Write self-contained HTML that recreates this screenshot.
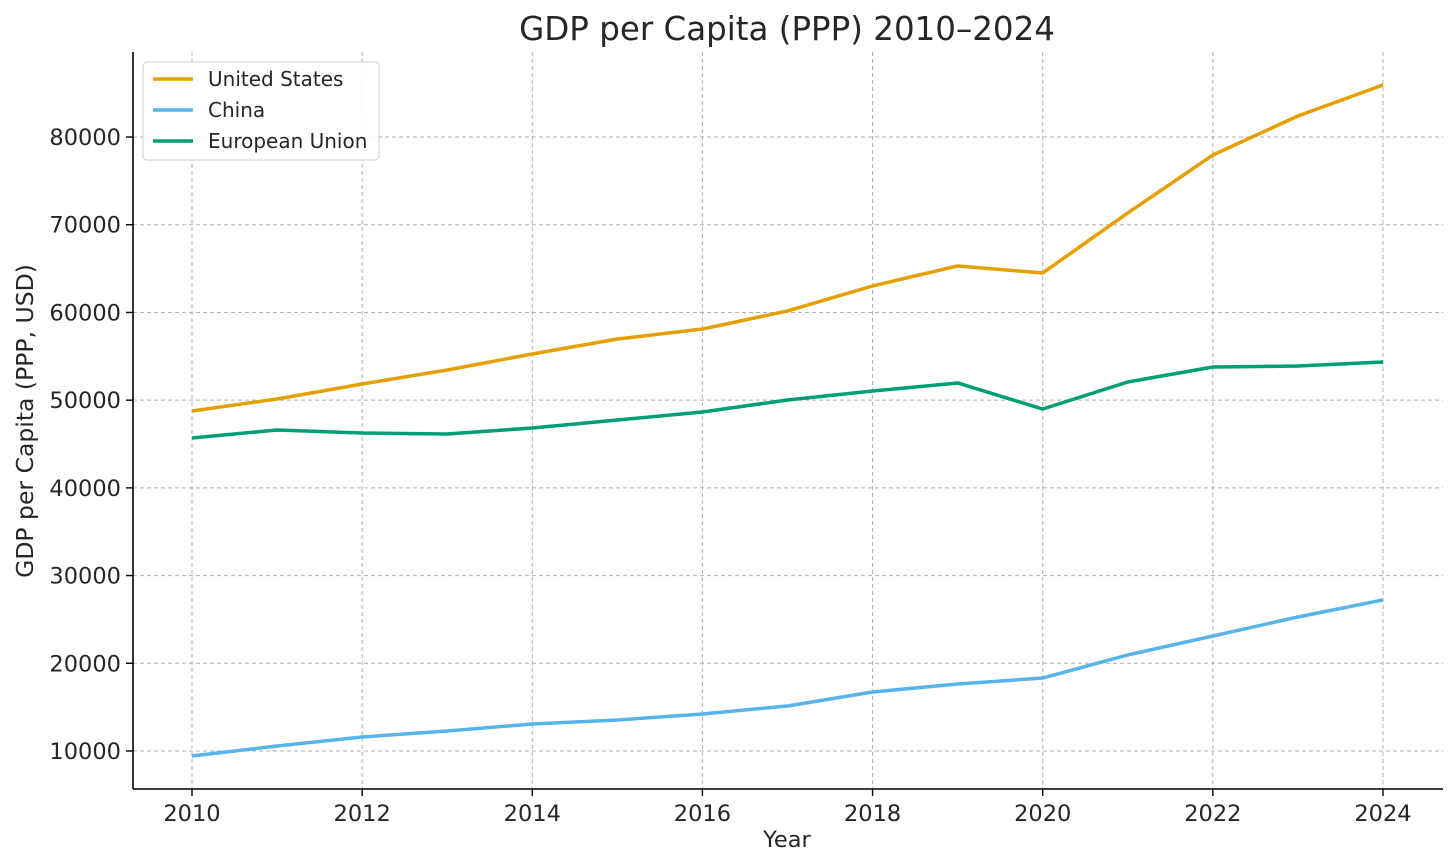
<!DOCTYPE html>
<html><head><meta charset="utf-8"><style>
html,body{margin:0;padding:0;background:#fff;}
svg{display:block;font-family:"DejaVu Sans","Liberation Sans",sans-serif;}
</style></head><body>
<svg id="chart" width="1456" height="868">
<text x="787" y="40" text-anchor="middle" font-size="32.5" fill="#262626">GDP per Capita (PPP) 2010–2024</text>
<g id="grid"></g>
<g id="series"></g>
<line x1="133" y1="52" x2="133" y2="789" stroke="#000" stroke-width="1.6"/>
<line x1="133" y1="789" x2="1443" y2="789" stroke="#000" stroke-width="1.6"/>
<g id="ticks"></g>
<text x="787" y="847" text-anchor="middle" font-size="22.5" fill="#262626">Year</text>
<text transform="translate(33,421) rotate(-90)" text-anchor="middle" font-size="23.5" fill="#262626">GDP per Capita (PPP, USD)</text>
<g>
<rect x="143" y="62" width="236" height="98" rx="4" fill="#fff" fill-opacity="0.85" stroke="#ccc"/>
<g><line x1="153" y1="79" x2="193" y2="79" stroke="#E69F00" stroke-width="3.5"/><text x="208" y="86" font-size="20" fill="#262626">United States</text></g>
<g><line x1="153" y1="110" x2="193" y2="110" stroke="#56B4E9" stroke-width="3.5"/><text x="208" y="117" font-size="20" fill="#262626">China</text></g>
<g><line x1="153" y1="141" x2="193" y2="141" stroke="#009E73" stroke-width="3.5"/><text x="208" y="148" font-size="20" fill="#262626">European Union</text></g>
</g>
</svg>
<script>
const years = [2010,2011,2012,2013,2014,2015,2016,2017,2018,2019,2020,2021,2022,2023,2024];
const usValues = [48760,50130,51840,53440,55260,56970,58110,60170,63020,65300,64500,71340,77950,82400,85930];
const chinaValues = [9430,10570,11600,12280,13080,13530,14220,15130,16730,17640,18320,20950,23110,25280,27220];
const euValues = [45690,46600,46250,46140,46830,47740,48650,50020,51040,51960,48990,52070,53780,53890,54350];
const xTicks = [2010,2012,2014,2016,2018,2020,2022,2024];
const yTicks = [10000,20000,30000,40000,50000,60000,70000,80000];

const NS = "http://www.w3.org/2000/svg";
const xs = v => 192 + (v - 2010) * (1383 - 192) / 14;
const ys = v => 751 - (v - 10000) * 87.71 / 10000;
function mk(tag, attrs, parent) { const e = document.createElementNS(NS, tag); for (const k in attrs) e.setAttribute(k, attrs[k]); parent.appendChild(e); return e; }
const grid = document.getElementById('grid'), ticks = document.getElementById('ticks'), series = document.getElementById('series');
xTicks.forEach(t => {
  const g = mk('line', {x1: xs(t), x2: xs(t), y1: 52, y2: 789, stroke: '#b0b0b0', 'stroke-width': 1, 'stroke-dasharray': '4,3'}, grid);
  
  
  mk('line', {x1: xs(t), x2: xs(t), y1: 789, y2: 796, stroke: '#000', 'stroke-width': 1.4}, ticks);
  const l = mk('text', {x: xs(t), y: 821, 'text-anchor': 'middle', 'font-size': 22.5, fill: '#262626'}, ticks);
  l.textContent = t;
  
  
});
yTicks.forEach(t => {
  const g = mk('line', {x1: 133, x2: 1443, y1: ys(t), y2: ys(t), stroke: '#b0b0b0', 'stroke-width': 1, 'stroke-dasharray': '4,3'}, grid);
  
  
  mk('line', {x1: 126, x2: 133, y1: ys(t), y2: ys(t), stroke: '#000', 'stroke-width': 1.4}, ticks);
  const l = mk('text', {x: 121, y: ys(t) + 8, 'text-anchor': 'end', 'font-size': 22.5, fill: '#262626'}, ticks);
  l.textContent = t;
  
  
});
[[usValues, '#E69F00', 'us-line'], [chinaValues, '#56B4E9', 'china-line'], [euValues, '#009E73', 'eu-line']].forEach(([vals, c, n]) => {
  const p = mk('polyline', {points: vals.map((v, i) => xs(years[i]) + ',' + ys(v)).join(' '), fill: 'none', stroke: c, 'stroke-width': 3.5, 'stroke-linejoin': 'round'}, series);
  
  
});
</script>
</body></html>
